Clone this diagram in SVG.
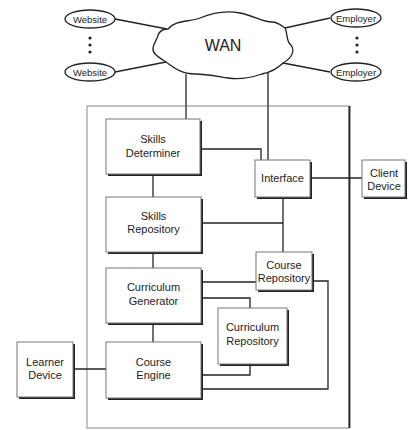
<svg xmlns="http://www.w3.org/2000/svg" width="409" height="430" viewBox="0 0 409 430">
<style>
  .box{fill:#fff;stroke:#777;stroke-width:1}
  .sh{fill:#222}
  .ln{fill:none;stroke:#222;stroke-width:1.3}
  .t{font-family:"Liberation Sans",Arial,sans-serif;font-size:11px;fill:#222;text-anchor:middle}
  .el{fill:#fff;stroke:#222;stroke-width:1.3}
  .et{font-family:"Liberation Sans",Arial,sans-serif;font-size:9.5px;fill:#222;text-anchor:middle}
</style>
<rect width="409" height="430" fill="#fff"/>
<g id="frame">
  <rect x="87" y="106" width="262" height="322" fill="none" stroke="#888" stroke-width="1"/>
  <line x1="349.5" y1="106" x2="349.5" y2="428" stroke="#222" stroke-width="1.8"/>
</g>
<g id="connectors">
  <line class="ln" x1="115" y1="19" x2="167" y2="29"/>
  <line class="ln" x1="115" y1="72" x2="166" y2="62"/>
  <line class="ln" x1="330" y1="18" x2="285" y2="28"/>
  <line class="ln" x1="330" y1="72" x2="283" y2="63"/>
  <line class="ln" x1="186" y1="74" x2="186" y2="119"/>
  <line class="ln" x1="268" y1="73" x2="268" y2="160"/>
  <path class="ln" d="M200,149 H261 V160"/>
  <line class="ln" x1="153" y1="174" x2="153" y2="197"/>
  <line class="ln" x1="310" y1="178" x2="362" y2="178"/>
  <line class="ln" x1="283" y1="197" x2="283" y2="252"/>
  <line class="ln" x1="201" y1="223" x2="283" y2="223"/>
  <line class="ln" x1="153" y1="252" x2="153" y2="268"/>
  <line class="ln" x1="153" y1="323" x2="153" y2="342"/>
  <line class="ln" x1="201" y1="282" x2="256" y2="282"/>
  <path class="ln" d="M201,298 H250 V308"/>
  <path class="ln" d="M201,375 H250 V364"/>
  <path class="ln" d="M201,389 H328 V281 H312"/>
  <line class="ln" x1="73" y1="369" x2="106" y2="369"/>
</g>
<g id="wan">
  <path d="M168,29 C175,20 190,22 200,18 C212,13 225,10 240,13 C255,16 262,22 272,22 C278,22 282,26 285,28 C288,34 286,40 290,44 C296,50 292,58 283,63 C278,68 272,72 262,74 C250,78 240,80 228,78 C215,76 205,74 195,74 C180,74 172,66 166,62 C160,58 152,54 153,48 C154,42 158,38 158,35 C160,30 164,29 168,29 Z" fill="#fff" stroke="#222" stroke-width="1.3"/>
  <text x="223" y="51" font-family="'Liberation Sans',Arial,sans-serif" font-size="16" fill="#222" text-anchor="middle">WAN</text>
</g>
<g id="website1"><ellipse class="el" cx="90" cy="19" rx="25" ry="9"/><text class="et" x="90" y="22.5">Website</text></g>
<g id="website2"><ellipse class="el" cx="90" cy="72" rx="25" ry="9"/><text class="et" x="90" y="75.5">Website</text></g>
<g id="employer1"><ellipse class="el" cx="356" cy="18" rx="25" ry="9"/><text class="et" x="356" y="21.5">Employer</text></g>
<g id="employer2"><ellipse class="el" cx="356" cy="72" rx="25" ry="9"/><text class="et" x="356" y="75.5">Employer</text></g>
<g id="dots" fill="#222">
  <circle cx="90" cy="38" r="1.6"/><circle cx="90" cy="45" r="1.6"/><circle cx="90" cy="52" r="1.6"/>
  <circle cx="357" cy="38" r="1.6"/><circle cx="357" cy="45" r="1.6"/><circle cx="357" cy="52" r="1.6"/>
</g>
<g id="skills-determiner">
  <rect class="sh" x="108" y="121" width="94" height="55"/>
  <rect class="box" x="106" y="119" width="94" height="55"/>
  <text class="t" x="153" y="143">Skills</text><text class="t" x="153" y="157">Determiner</text>
</g>
<g id="interface">
  <rect class="sh" x="257" y="162" width="55" height="37"/>
  <rect class="box" x="255" y="160" width="55" height="37"/>
  <text class="t" x="282.5" y="182">Interface</text>
</g>
<g id="client-device">
  <rect class="sh" x="364" y="162" width="43" height="37"/>
  <rect class="box" x="362" y="160" width="43" height="37"/>
  <text class="t" x="384" y="177">Client</text><text class="t" x="384" y="190">Device</text>
</g>
<g id="skills-repository">
  <rect class="sh" x="108" y="199" width="95" height="55"/>
  <rect class="box" x="106" y="197" width="95" height="55"/>
  <text class="t" x="153.5" y="219.5">Skills</text><text class="t" x="153.5" y="233">Repository</text>
</g>
<g id="course-repository">
  <rect class="sh" x="258" y="254" width="56" height="38"/>
  <rect class="box" x="256" y="252" width="56" height="38"/>
  <text class="t" x="284" y="269">Course</text><text class="t" x="284" y="282">Repository</text>
</g>
<g id="curriculum-generator">
  <rect class="sh" x="108" y="270" width="95" height="55"/>
  <rect class="box" x="106" y="268" width="95" height="55"/>
  <text class="t" x="153.5" y="291">Curriculum</text><text class="t" x="153.5" y="305">Generator</text>
</g>
<g id="curriculum-repository">
  <rect class="sh" x="220" y="310" width="69" height="56"/>
  <rect class="box" x="218" y="308" width="69" height="56"/>
  <text class="t" x="252.5" y="331">Curriculum</text><text class="t" x="252.5" y="345">Repository</text>
</g>
<g id="course-engine">
  <rect class="sh" x="108" y="344" width="95" height="56"/>
  <rect class="box" x="106" y="342" width="95" height="56"/>
  <text class="t" x="153.5" y="366">Course</text><text class="t" x="153.5" y="379">Engine</text>
</g>
<g id="learner-device">
  <rect class="sh" x="19" y="344" width="56" height="55"/>
  <rect class="box" x="17" y="342" width="56" height="55"/>
  <text class="t" x="45" y="366">Learner</text><text class="t" x="45" y="379">Device</text>
</g>
</svg>
